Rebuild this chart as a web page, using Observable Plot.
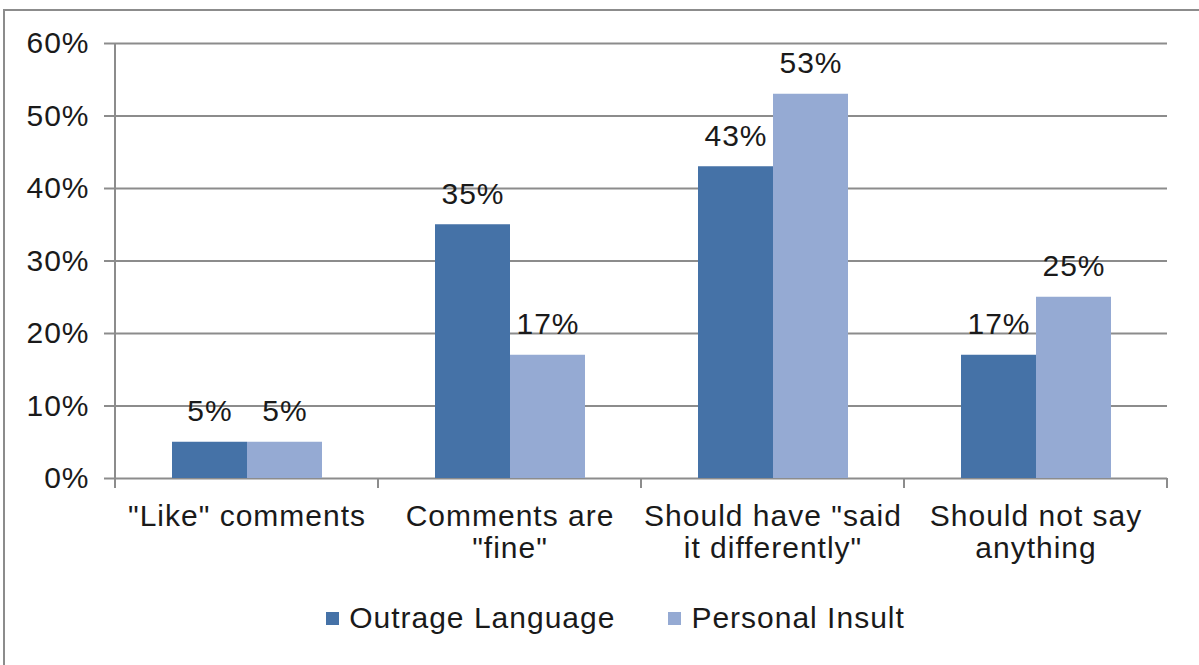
<!DOCTYPE html>
<html>
<head>
<meta charset="utf-8">
<script src="https://cdn.jsdelivr.net/npm/d3@7"></script>
<script src="https://cdn.jsdelivr.net/npm/@observablehq/plot@0.6"></script>
<style>
  html, body { margin: 0; padding: 0; background: #fff; width: 1199px; height: 665px; overflow: hidden; }
  #frame { position: absolute; left: 3px; top: 9px; width: 1300px; height: 800px;
           border-top: 2px solid #8c8c8c; border-left: 2px solid #8c8c8c; }
  #chart { position: absolute; left: 0; top: 0; }
  #legend { position: absolute; left: 16px; top: 601px; width: 1199px; display: flex; justify-content: center;
            font-family: "Liberation Sans", Arial, sans-serif; font-size: 30px; letter-spacing: 1px; color: #1a1a1a; }
  .item { display: flex; align-items: center; margin: 0 25px; }
  .item:first-child { margin-right: 28px; }
  .sw { width: 13px; height: 13px; margin-right: 10px; }
  svg text { letter-spacing: 1px; }
</style>
</head>
<body>
<div id="frame"></div>
<div id="chart"></div>
<div id="legend"></div>
<script>
const categories = ['"Like" comments', 'Comments are "fine"', 'Should have "said it differently"', 'Should not say anything'];
const categoryLabels = ['"Like" comments', 'Comments are\n"fine"', 'Should have "said\nit differently"', 'Should not say\nanything'];
const series = ["Outrage Language", "Personal Insult"];
const outrageValues = [5, 35, 43, 17];
const insultValues = [5, 17, 53, 25];
const colors = ["#4572a7", "#95aad3"];
const yTicks = [0, 10, 20, 30, 40, 50, 60];

const data = [];
categories.forEach((c, i) => {
  data.push({category: c, series: series[0], value: outrageValues[i]});
  data.push({category: c, series: series[1], value: insultValues[i]});
});

const font = '"Liberation Sans", Arial, sans-serif';
const chart = Plot.plot({
  width: 1199,
  height: 590,
  marginLeft: 115,
  marginRight: 32,
  marginTop: 43,
  marginBottom: 112,
  style: {fontFamily: font, fontSize: "30px", color: "#1a1a1a", background: "transparent"},
  fx: {domain: categories, padding: 0, label: null, axis: null},
  x: {domain: series, paddingOuter: 0.74, paddingInner: 0, axis: null},
  y: {domain: [0, 60], label: null, axis: null},
  color: {domain: series, range: colors},
  marks: [
    Plot.gridY(yTicks, {stroke: "#8c8c8c", strokeOpacity: 1, strokeWidth: 2}),
    Plot.axisY(yTicks, {tickSize: 11, tickPadding: 15, stroke: "#8c8c8c", strokeWidth: 2, fill: "#1a1a1a",
                        tickFormat: d => d + "%", label: null, fontSize: 30}),
    Plot.barY(data, {fx: "category", x: "series", y: "value", fill: "series"}),
    Plot.text(data, {fx: "category", x: "series", y: "value", text: d => d.value + "%",
                     dy: -21, lineAnchor: "bottom", fill: "#1a1a1a", fontSize: 30}),
    Plot.axisFx({anchor: "bottom", tickSize: 0, tickPadding: 25, lineAnchor: "top", label: null, fontSize: 30,
                 fill: "#1a1a1a", lineHeight: 1.07,
                 tickFormat: c => categoryLabels[categories.indexOf(c)]})
  ]
});
document.getElementById("chart").appendChild(chart);

// Axis line and category boundary ticks, placed through Plot's scales
const fx = chart.scale("fx");
const y = chart.scale("y");
const svg = d3.select(chart);
const y0 = y.apply(0), yTop = y.apply(60);
const bounds = categories.map(c => fx.apply(c)).concat([fx.apply(categories[categories.length - 1]) + fx.bandwidth]);
const g = svg.append("g").attr("stroke", "#8c8c8c").attr("stroke-width", 2);
g.append("line").attr("x1", bounds[0]).attr("x2", bounds[0]).attr("y1", yTop).attr("y2", y0 + 10);
bounds.slice(1).forEach(b => g.append("line").attr("x1", b).attr("x2", b).attr("y1", y0).attr("y2", y0 + 10));

// Legend
const legend = document.getElementById("legend");
series.forEach((s, i) => {
  const it = document.createElement("div");
  it.className = "item";
  it.innerHTML = `<span class="sw" style="background:${colors[i]}"></span><span>${s}</span>`;
  legend.appendChild(it);
});
</script>
</body>
</html>
